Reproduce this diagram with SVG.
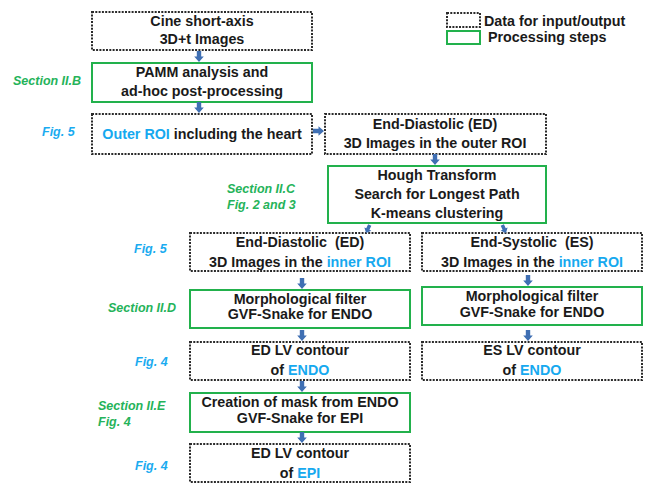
<svg xmlns="http://www.w3.org/2000/svg" xmlns:xlink="http://www.w3.org/1999/xlink" width="647" height="483" viewBox="0 0 647 483">
<style>
.data{fill:#fff;stroke:#2a2a2a;stroke-width:2;stroke-dasharray:2 1.3}
.proc{fill:#fff;stroke:#22b14c;stroke-width:2}
.t{font-family:"Liberation Sans",Arial,sans-serif;font-weight:bold;font-size:14.3px;fill:#1a1a1a;text-anchor:middle}
.lg{font-family:"Liberation Sans",Arial,sans-serif;font-weight:bold;font-size:14.3px;fill:#1a1a1a}
.b{fill:#16a9ef}
.sg{font-family:"Liberation Sans",Arial,sans-serif;font-weight:bold;font-style:italic;font-size:12.5px;fill:#25b35a}
.sb{font-family:"Liberation Sans",Arial,sans-serif;font-weight:bold;font-style:italic;font-size:12.5px;fill:#1aabf0}
.arr{fill:#3f6fb3}
</style>
<defs>
<path id="ad" d="M-2.2,-11 h4.4 v5.5 h2.6 L0,0 L-4.8,-5.5 h2.6 z"/>
</defs>
<g id="legend">
<rect class="data" x="447" y="13" width="33" height="14"/>
<rect class="proc" x="447" y="31" width="33" height="13"/>
<text class="lg" x="484" y="26">Data for input/output</text>
<text class="lg" x="488" y="42">Processing steps</text>
</g>
<g id="labels">
<text class="sg" x="13" y="85">Section II.B</text>
<text class="sb" x="42" y="136">Fig. 5</text>
<text class="sg" x="227" y="193">Section II.C</text>
<text class="sg" x="227" y="209">Fig. 2 and 3</text>
<text class="sb" x="134" y="253">Fig. 5</text>
<text class="sg" x="108" y="312">Section II.D</text>
<text class="sb" x="135" y="366">Fig. 4</text>
<text class="sg" x="98" y="410">Section II.E</text>
<text class="sg" x="98" y="426">Fig. 4</text>
<text class="sb" x="135" y="470">Fig. 4</text>
</g>
<g id="n1"><rect class="data" x="92" y="12" width="220" height="38"/>
<text class="t" x="202" y="26">Cine short-axis</text><text class="t" x="202" y="44">3D+t Images</text></g>
<g id="n2"><rect class="proc" x="92" y="63" width="220" height="39"/>
<text class="t" x="202" y="77">PAMM analysis and</text><text class="t" x="202" y="96">ad-hoc post-processing</text></g>
<g id="n3"><rect class="data" x="92" y="114" width="220" height="40"/>
<text class="t" x="202" y="139"><tspan class="b">Outer ROI</tspan> including the heart</text></g>
<g id="n4"><rect class="data" x="325" y="114" width="221" height="40"/>
<text class="t" x="435" y="129">End-Diastolic (ED)</text><text class="t" x="435" y="148">3D Images in the outer ROI</text></g>
<g id="n5"><rect class="proc" x="328" y="166" width="218" height="57"/>
<text class="t" x="437" y="180">Hough Transform</text><text class="t" x="437" y="199">Search for Longest Path</text><text class="t" x="437" y="218">K-means clustering</text></g>
<g id="n6"><rect class="data" x="190" y="233" width="220" height="38"/>
<text class="t" x="300" y="247">End-Diastolic&#160; (ED)</text><text class="t" x="300" y="267">3D Images in the <tspan class="b">inner ROI</tspan></text></g>
<g id="n7"><rect class="data" x="422" y="233" width="220" height="38"/>
<text class="t" x="532" y="247">End-Systolic&#160; (ES)</text><text class="t" x="532" y="267">3D Images in the <tspan class="b">inner ROI</tspan></text></g>
<g id="n8"><rect class="proc" x="190" y="290" width="220" height="38"/>
<text class="t" x="300" y="304">Morphological filter</text><text class="t" x="300" y="319">GVF-Snake for ENDO</text></g>
<g id="n9"><rect class="proc" x="422" y="287" width="220" height="38"/>
<text class="t" x="532" y="301">Morphological filter</text><text class="t" x="532" y="317">GVF-Snake for ENDO</text></g>
<g id="n10"><rect class="data" x="190" y="342" width="220" height="38"/>
<text class="t" x="300" y="355">ED LV contour</text><text class="t" x="300" y="375">of <tspan class="b">ENDO</tspan></text></g>
<g id="n11"><rect class="data" x="422" y="342" width="220" height="38"/>
<text class="t" x="532" y="355">ES LV contour</text><text class="t" x="532" y="375">of <tspan class="b">ENDO</tspan></text></g>
<g id="n12"><rect class="proc" x="190" y="393" width="220" height="39"/>
<text class="t" x="300" y="407">Creation of mask from ENDO</text><text class="t" x="300" y="423">GVF-Snake for EPI</text></g>
<g id="n13"><rect class="data" x="190" y="444" width="220" height="38"/>
<text class="t" x="300" y="458">ED LV contour</text><text class="t" x="300" y="478">of <tspan class="b">EPI</tspan></text></g>
<g id="connectors" class="arr">
<use xlink:href="#ad" transform="translate(199,62)"/>
<use xlink:href="#ad" transform="translate(199,113)"/>
<use xlink:href="#ad" transform="translate(324,131) rotate(-90)"/>
<use xlink:href="#ad" transform="translate(435,165)"/>
<use xlink:href="#ad" transform="translate(366,233) rotate(25) scale(0.8)"/>
<use xlink:href="#ad" transform="translate(506,233) rotate(-25) scale(0.8)"/>
<use xlink:href="#ad" transform="translate(302,289)"/>
<use xlink:href="#ad" transform="translate(528,286)"/>
<use xlink:href="#ad" transform="translate(302,341)"/>
<use xlink:href="#ad" transform="translate(528,341)"/>
<use xlink:href="#ad" transform="translate(302,392)"/>
<use xlink:href="#ad" transform="translate(302,443)"/>
</g>
</svg>
